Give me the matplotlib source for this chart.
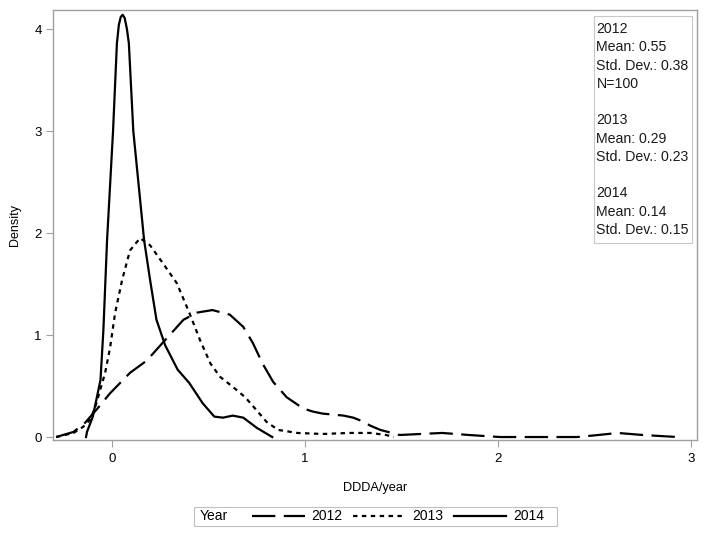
import matplotlib
matplotlib.use("Agg")
import matplotlib.pyplot as plt
from matplotlib.patches import Rectangle

plt.rcParams['font.family'] = ['Liberation Sans', 'DejaVu Sans']

# kernel density curves (DDDA/year, density)
x_2012 = [-0.29, -0.2, -0.14, -0.08, -0.01, 0.093, 0.18, 0.265, 0.37, 0.44, 0.52,
          0.61, 0.68, 0.73, 0.78, 0.835, 0.905, 0.99, 1.04, 1.09, 1.2, 1.25, 1.29,
          1.34, 1.39, 1.49, 1.6, 1.71, 1.85, 2.01, 2.2, 2.41, 2.52, 2.62, 2.75, 2.93]
y_2012 = [0.0, 0.05, 0.14, 0.27, 0.43, 0.63, 0.75, 0.93, 1.15, 1.22, 1.245,
          1.2, 1.08, 0.92, 0.72, 0.54, 0.39, 0.28, 0.25, 0.23, 0.21, 0.19, 0.16,
          0.11, 0.07, 0.02, 0.03, 0.04, 0.02, 0.0, 0.0, 0.0, 0.02, 0.04, 0.02, 0.0]

x_2013 = [-0.29, -0.2, -0.15, -0.114, -0.088, -0.062, -0.036, -0.01, 0.016, 0.052,
          0.093, 0.145, 0.197, 0.265, 0.335, 0.40, 0.456, 0.51, 0.56, 0.627, 0.69,
          0.75, 0.80, 0.86, 0.96, 1.09, 1.23, 1.34, 1.42, 1.46]
y_2013 = [0.0, 0.04, 0.1, 0.17, 0.29, 0.46, 0.63, 0.88, 1.22, 1.54,
          1.83, 1.95, 1.88, 1.7, 1.51, 1.22, 0.95, 0.72, 0.59, 0.49, 0.39,
          0.26, 0.15, 0.07, 0.04, 0.03, 0.04, 0.04, 0.02, 0.0]

x_2014 = [-0.135, -0.13, -0.1, -0.06, -0.045, -0.026, 0.005, 0.025, 0.035, 0.045,
          0.055, 0.065, 0.077, 0.087, 0.11, 0.166, 0.197, 0.23, 0.275, 0.34, 0.40,
          0.47, 0.53, 0.575, 0.625, 0.68, 0.75, 0.83]
y_2014 = [0.0, 0.05, 0.2, 0.56, 1.05, 1.93, 3.0, 3.86, 4.04, 4.12,
          4.14, 4.11, 4.0, 3.86, 3.0, 1.93, 1.54, 1.15, 0.9, 0.66, 0.53,
          0.33, 0.2, 0.19, 0.21, 0.19, 0.09, 0.0]

years = ['2012', '2013', '2014']
stats_text = ("2012\nMean: 0.55\nStd. Dev.: 0.38\nN=100\n\n"
              "2013\nMean: 0.29\nStd. Dev.: 0.23\n\n"
              "2014\nMean: 0.14\nStd. Dev.: 0.15")

x_ticks = [0, 1, 2, 3]
y_ticks = [0, 1, 2, 3, 4]

fig = plt.figure(figsize=(7.09, 5.33), dpi=100)
ax = fig.add_axes([0.0748, 0.1745, 0.9082, 0.8065])

lw = 1.6
l1, = ax.plot(x_2012, y_2012, color='black', lw=lw, linestyle=(0, (10.5, 3.8)),
              label=years[0])
l2, = ax.plot(x_2013, y_2013, color='black', lw=lw, linestyle=(0, (2.0, 2.0)),
              label=years[1])
l3, = ax.plot(x_2014, y_2014, color='black', lw=lw, linestyle='-', label=years[2])

ax.set_xlim(-0.306, 3.031)
ax.set_ylim(-0.029, 4.186)
ax.set_xticks(x_ticks)
ax.set_yticks(y_ticks)
ax.tick_params(direction='out', length=5, width=0.8, color='#a0a0a0',
               labelsize=9.5, pad=3)
ax.tick_params(axis='x', pad=4.5)
for s in ax.spines.values():
    s.set_color('#a0a0a0')
    s.set_linewidth(1.0)

ax.set_xlabel('DDDA/year', fontsize=9.2, labelpad=12)
ax.set_ylabel('Density', fontsize=9.0, labelpad=10)

# statistics inset
ax.add_patch(Rectangle((0.840, 0.458), 0.152, 0.528, transform=ax.transAxes,
                       facecolor='white', edgecolor='#c8c8c8', linewidth=0.8,
                       zorder=3))
ax.text(0.844, 0.972, stats_text, transform=ax.transAxes, ha='left', va='top',
        fontsize=10.2, linespacing=1.385, color='#1a1a1a', zorder=4)

# legend: frame + inline "Year" title + entries
fig.patches.append(Rectangle((194 / 709, 7 / 533), (557 - 194) / 709, 19 / 533,
                             transform=fig.transFigure, facecolor='white',
                             edgecolor='#c0c0c0', linewidth=0.8))
fig.text(200 / 709, 0.031, 'Year', fontsize=10, va='center', ha='left')
fig.legend(handles=[l1, l2, l3], loc='center left', bbox_to_anchor=(252 / 709, 0.031),
           ncol=3, frameon=False, fontsize=10, handlelength=3.8, handletextpad=0.5,
           columnspacing=0.72, borderpad=0, borderaxespad=0)

fig.savefig('out.png', dpi=100)
